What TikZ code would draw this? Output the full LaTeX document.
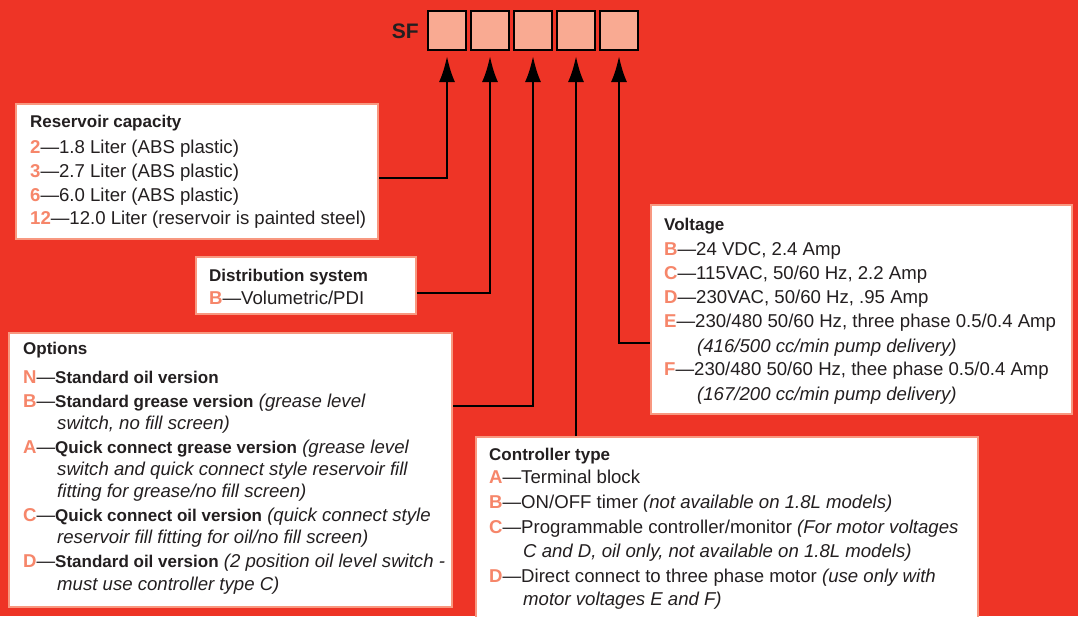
\documentclass[tikz,border=0pt]{standalone}
\usepackage{fontspec}
\setmainfont{Liberation Sans}
\usetikzlibrary{arrows.meta}

\definecolor{bgred}{RGB}{238,52,38}
\definecolor{codec}{RGB}{246,134,106}
\definecolor{edgec}{RGB}{248,152,128}
\definecolor{slotc}{RGB}{249,170,146}
\definecolor{inkc}{RGB}{35,31,32}

\newcommand\cd[1]{{\color{codec}\bfseries #1}\textemdash}
\newcommand\hd[1]{{\fontsize{17}{20}\selectfont\bfseries #1}}

\tikzset{
  card/.style={draw=edgec,line width=2pt,fill=white,anchor=north west,inner sep=0pt},
  slot/.style={draw=black,line width=2pt,fill=slotc,minimum width=38pt,minimum height=39pt,inner sep=0pt},
  txt/.style={anchor=base west,inner sep=0pt,text=inkc,font=\fontsize{18.6}{24}\selectfont},
  conn/.style={line width=2.5pt,-{Latex[length=26pt,width=16pt]},shorten >=5pt},
}

\begin{document}
\begin{tikzpicture}[x=1pt,y=-1pt]
 \clip (0,0) rectangle (1078,616);
 \fill[bgred] (0,0) rectangle (1078,616);
 % part number
 \node[anchor=base east,inner sep=0pt,text=inkc,font=\fontsize{21}{22}\selectfont\bfseries] (sf) at (419,38) {SF};
 \foreach \i in {1,...,5}
   \node[slot] (sf\i) at ({447+43*(\i-1)},30.5) {};
 % cards
 \node[card,minimum width=362pt,minimum height=135pt] (res) at (15,103) {};
 \node[card,minimum width=220pt,minimum height=57pt] (dist) at (195,256) {};
 \node[card,minimum width=443pt,minimum height=274pt] (opt) at (8,332) {};
 \node[card,minimum width=502pt,minimum height=200pt] (ctrl) at (475,436) {};
 \node[card,minimum width=421pt,minimum height=209pt] (volt) at (650,204) {};
 % reservoir
 \foreach \xx/\yy/\txt [count=\n] in {
   30/127/{\hd{Reservoir capacity}},
   30/153/{\cd{2}1.8 Liter (ABS plastic)},
   30/177/{\cd{3}2.7 Liter (ABS plastic)},
   30/201/{\cd{6}6.0 Liter (ABS plastic)},
   30/224/{\cd{12}12.0 Liter (reservoir is painted steel)}}
   \node[txt] (res-\n) at (\xx,\yy) {\txt};
 % distribution
 \foreach \xx/\yy/\txt [count=\n] in {
   209/281/{\hd{Distribution system}},
   209/304/{\cd{B}Volumetric/PDI}}
   \node[txt] (dist-\n) at (\xx,\yy) {\txt};
 % options
 \foreach \xx/\yy/\txt [count=\n] in {
   23/354/{\hd{Options}},
   23/383/{\cd{N}\hd{Standard oil version}},
   23/407/{\cd{B}\hd{Standard grease version} \textit{(grease level}},
   57/429/{\textit{switch, no fill screen)}},
   23/453/{\cd{A}\hd{Quick connect grease version} \textit{(grease level}},
   57/475/{\textit{switch and quick connect style reservoir fill}},
   57/497/{\textit{fitting for grease/no fill screen)}},
   23/521/{\cd{C}\hd{Quick connect oil version} \textit{(quick connect style}},
   57/543/{\textit{reservoir fill fitting for oil/no fill screen)}},
   23/567/{\cd{D}\hd{Standard oil version} \textit{(2 position oil level switch -}},
   57/590/{\textit{must use controller type C)}}}
   \node[txt] (opt-\n) at (\xx,\yy) {\txt};
 % controller
 \foreach \xx/\yy/\txt [count=\n] in {
   489/460/{\hd{Controller type}},
   489/483/{\cd{A}Terminal block},
   489/508/{\cd{B}ON/OFF timer \textit{(not available on 1.8L models)}},
   489/533/{\cd{C}Programmable controller/monitor \textit{(For motor voltages}},
   523/557/{\textit{C and D, oil only, not available on 1.8L models)}},
   489/582/{\cd{D}Direct connect to three phase motor \textit{(use only with}},
   523/605/{\textit{motor voltages E and F)}}}
   \node[txt] (ctrl-\n) at (\xx,\yy) {\txt};
 % voltage
 \foreach \xx/\yy/\txt [count=\n] in {
   664/230/{\hd{Voltage}},
   664/255/{\cd{B}24 VDC, 2.4 Amp},
   664/279/{\cd{C}115VAC, 50/60 Hz, 2.2 Amp},
   664/303/{\cd{D}230VAC, 50/60 Hz, .95 Amp},
   664/327/{\cd{E}230/480 50/60 Hz, three phase 0.5/0.4 Amp},
   697/352/{\textit{(416/500 cc/min pump delivery)}},
   664/375/{\cd{F}230/480 50/60 Hz, thee phase 0.5/0.4 Amp},
   697/400/{\textit{(167/200 cc/min pump delivery)}}}
   \node[txt] (volt-\n) at (\xx,\yy) {\txt};
 % connectors
 \draw[conn] (res.east |- 0,178) -| (sf1.south);
 \draw[conn] (dist.east |- 0,293) -| (sf2.south);
 \draw[conn] (opt.east |- 0,406) -| (sf3.south);
 \draw[conn] (sf4.south |- ctrl.north) -- (sf4.south);
 \draw[conn] (volt.west |- 0,343) -| (sf5.south);
\end{tikzpicture}
\end{document}
